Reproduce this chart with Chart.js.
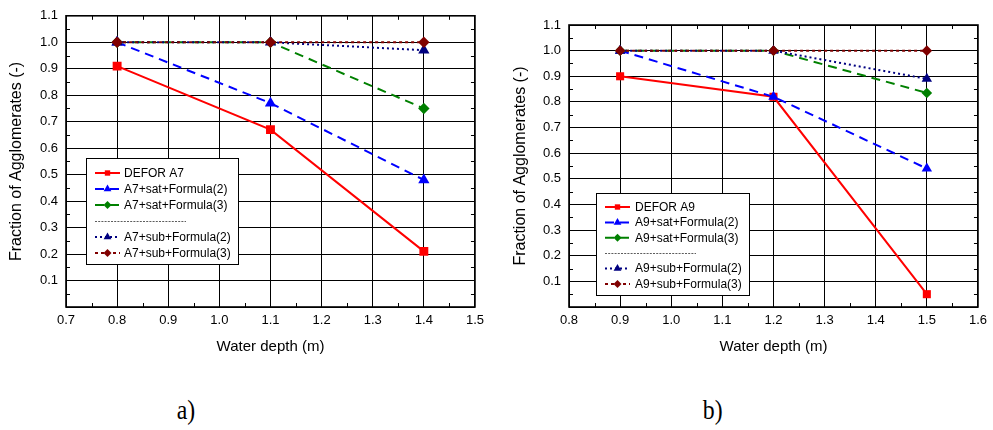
<!DOCTYPE html>
<html>
<head>
<meta charset="utf-8">
<script src="https://cdn.jsdelivr.net/npm/chart.js@4.4.1/dist/chart.umd.min.js"></script>
<style>
  body { margin: 0; background: #fff; width: 993px; height: 430px; overflow: hidden; position: relative; }
  canvas { position: absolute; top: 0; }
  #chartA { left: 0; }
  #chartB { left: 500px; }
  .panel-label {
    position: absolute; top: 394px;
    font-family: 'Liberation Serif', 'Times New Roman', serif; font-size: 28px; color: #000;
    transform: scaleX(0.85);
  }
</style>
</head>
<body>
<canvas id="chartA" width="490" height="362"></canvas>
<canvas id="chartB" width="493" height="362"></canvas>
<div class="panel-label" style="left:175px">a)</div>
<div class="panel-label" style="left:701px">b)</div>

<script>
// --- data ---
const depthA = [0.8, 1.1, 1.4];
const deforA7 = [0.91, 0.67, 0.21];
const a7SatF2 = [1.0, 0.77, 0.48];
const a7SatF3 = [1.0, 1.0, 0.75];
const a7SubF2 = [1.0, 1.0, 0.97];
const a7SubF3 = [1.0, 1.0, 1.0];
const namesA = ['DEFOR A7', 'A7+sat+Formula(2)', 'A7+sat+Formula(3)', 'A7+sub+Formula(2)', 'A7+sub+Formula(3)'];

const depthB = [0.9, 1.2, 1.5];
const deforA9 = [0.90, 0.82, 0.05];
const a9SatF2 = [1.0, 0.82, 0.54];
const a9SatF3 = [1.0, 1.0, 0.835];
const a9SubF2 = [1.0, 1.0, 0.89];
const a9SubF3 = [1.0, 1.0, 1.0];
const namesB = ['DEFOR A9', 'A9+sat+Formula(2)', 'A9+sat+Formula(3)', 'A9+sub+Formula(2)', 'A9+sub+Formula(3)'];

const yRange = [0, 1.1];
const xRangeA = [0.7, 1.5];
const xRangeB = [0.8, 1.6];
const tickStep = 0.1;

const FONT = "'Liberation Sans', Arial, sans-serif";

const seriesStyles = [
    { color: '#ff0000', dash: [], pointStyle: 'rect' },
    { color: '#0000ff', dash: [9, 6], pointStyle: 'triangle' },
    { color: '#008000', dash: [9, 6], pointStyle: 'rectRot' },
    { color: '#000080', dash: [2, 3], pointStyle: 'triangle' },
    { color: '#800000', dash: [3, 3], pointStyle: 'rectRot' }
];

// inward minor ticks at half steps + heavier frame
const framePlugin = {
    id: 'frameTicks',
    afterDatasetsDraw(chart) {
        const { ctx, chartArea: a, scales: { x, y } } = chart;
        ctx.save();
        ctx.strokeStyle = '#000';
        ctx.lineWidth = 1;
        ctx.setLineDash([]);
        const len = 4;
        for (let k = 1; x.min + k * tickStep / 2 < x.max - 1e-9; k += 2) {
            const px = Math.round(x.getPixelForValue(x.min + k * tickStep / 2)) + 0.5;
            ctx.beginPath();
            ctx.moveTo(px, a.bottom); ctx.lineTo(px, a.bottom - len);
            ctx.moveTo(px, a.top); ctx.lineTo(px, a.top + len);
            ctx.stroke();
        }
        for (let k = 1; y.min + k * tickStep / 2 < y.max - 1e-9; k += 2) {
            const py = Math.round(y.getPixelForValue(y.min + k * tickStep / 2)) + 0.5;
            ctx.beginPath();
            ctx.moveTo(a.left, py); ctx.lineTo(a.left + len, py);
            ctx.moveTo(a.right, py); ctx.lineTo(a.right - len, py);
            ctx.stroke();
        }
        ctx.lineWidth = 1.6;
        ctx.strokeRect(a.left, a.top, a.right - a.left, a.bottom - a.top);
        ctx.restore();
    }
};

// boxed legend with a separator line between the sat and sub groups
const boxLegendPlugin = {
    id: 'boxLegend',
    afterDraw(chart, args, opts) {
        const { ctx } = chart;
        ctx.save();
        ctx.fillStyle = '#fff';
        ctx.fillRect(opts.x, opts.y, opts.w, opts.h);
        ctx.strokeStyle = '#000';
        ctx.lineWidth = 1;
        ctx.setLineDash([]);
        ctx.strokeRect(opts.x + 0.5, opts.y + 0.5, opts.w, opts.h);

        ctx.font = '12px ' + FONT;
        ctx.textBaseline = 'middle';
        let slot = 0;
        chart.data.datasets.forEach((ds, i) => {
            if (i === opts.sepAfter) {
                const sy = Math.round(opts.firstRow + slot * opts.rowH) + 0.5;
                ctx.strokeStyle = '#333';
                ctx.lineWidth = 0.8;
                ctx.setLineDash([2, 1.2]);
                ctx.beginPath();
                ctx.moveTo(opts.x + 9, sy);
                ctx.lineTo(opts.x + opts.sepLen, sy);
                ctx.stroke();
                slot++;
            }
            const cy = opts.firstRow + slot * opts.rowH;
            const x0 = opts.x + 9, x1 = opts.x + 34;
            ctx.strokeStyle = ds.borderColor;
            ctx.lineWidth = ds.borderWidth;
            ctx.setLineDash(ds.borderDash || []);
            ctx.beginPath();
            ctx.moveTo(x0, cy); ctx.lineTo(x1, cy);
            ctx.stroke();
            ctx.setLineDash([]);
            ctx.fillStyle = ds.borderColor;
            ctx.lineWidth = 1;
            Chart.helpers.drawPoint(ctx, {
                pointStyle: ds.pointStyle,
                radius: opts.markerR[ds.pointStyle],
                rotation: 0,
                borderWidth: 0
            }, (x0 + x1) / 2, cy);
            ctx.fillStyle = '#000';
            ctx.fillText(ds.label, opts.x + opts.textOff, cy + 0.5);
            slot++;
        });
        ctx.restore();
    }
};

function makeChart(id, xs, series, names, xRange, cfg) {
    const datasets = series.map((vals, i) => {
        const st = seriesStyles[i];
        return {
            label: names[i],
            data: vals.map((v, j) => ({ x: xs[j], y: v })),
            borderColor: st.color,
            backgroundColor: st.color,
            borderWidth: 2,
            borderDash: st.dash,
            pointStyle: st.pointStyle,
            pointRadius: cfg.pointR[st.pointStyle],
            pointBorderWidth: 0,
            pointBackgroundColor: st.color,
            tension: 0,
            order: series.length - i
        };
    });

    return new Chart(document.getElementById(id), {
        type: 'line',
        data: { datasets },
        plugins: [framePlugin, boxLegendPlugin],
        options: {
            responsive: false,
            animation: false,
            devicePixelRatio: 1,
            layout: { padding: { left: 0, top: cfg.top, right: 11, bottom: 0 } },
            plugins: {
                legend: { display: false },
                tooltip: { enabled: false },
                boxLegend: cfg.legend
            },
            scales: {
                x: {
                    type: 'linear',
                    min: xRange[0],
                    max: xRange[1],
                    afterFit: (s) => { s.height = 55; },
                    grid: { color: '#000', lineWidth: 1, drawTicks: false },
                    border: { display: false },
                    ticks: {
                        stepSize: tickStep,
                        padding: 6,
                        color: '#000',
                        font: { family: FONT, size: 13 },
                        callback: (v) => v.toFixed(1)
                    },
                    title: {
                        display: true,
                        text: 'Water depth (m)',
                        color: '#000',
                        font: { family: FONT, size: 15 },
                        padding: { top: 0, bottom: 6 }
                    }
                },
                y: {
                    min: yRange[0],
                    max: yRange[1],
                    afterFit: (s) => { s.width = cfg.yWidth; },
                    grid: { color: '#000', lineWidth: 1, drawTicks: false },
                    border: { display: false },
                    ticks: {
                        stepSize: tickStep,
                        padding: 8,
                        color: '#000',
                        font: { family: FONT, size: 13 },
                        callback: (v) => (Math.abs(v) < 1e-9 ? '' : v.toFixed(1))
                    },
                    title: {
                        display: true,
                        text: 'Fraction of Agglomerates (-)',
                        color: '#000',
                        font: { family: FONT, size: 16 },
                        padding: { top: cfg.yTitlePad, bottom: 0 }
                    }
                }
            }
        }
    });
}

makeChart('chartA', depthA, [deforA7, a7SatF2, a7SatF3, a7SubF2, a7SubF3], namesA, xRangeA, {
    top: 13,
    yWidth: 66,
    yTitlePad: 7,
    pointR: { rect: 6.3, triangle: 6.5, rectRot: 5.7 },
    legend: {
        x: 86, y: 158, w: 152, h: 106,
        firstRow: 173, rowH: 16, sepAfter: 3, sepLen: 100, textOff: 38,
        markerR: { rect: 3.8, triangle: 4.5, rectRot: 4 }
    }
});

makeChart('chartB', depthB, [deforA9, a9SatF2, a9SatF3, a9SubF2, a9SubF3], namesB, xRangeB, {
    top: 25,
    yWidth: 69,
    yTitlePad: 11,
    pointR: { rect: 5.7, triangle: 6, rectRot: 5.3 },
    legend: {
        x: 96, y: 193, w: 153, h: 102,
        firstRow: 207, rowH: 15.4, sepAfter: 3, sepLen: 100, textOff: 39,
        markerR: { rect: 3.8, triangle: 4.5, rectRot: 4 }
    }
});
</script>
</body>
</html>
